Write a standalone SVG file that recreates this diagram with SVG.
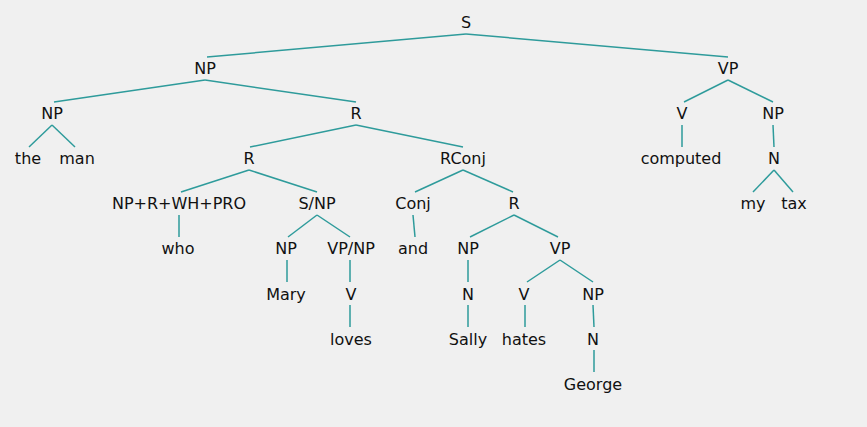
<svg xmlns="http://www.w3.org/2000/svg" width="867" height="427" viewBox="0 0 867 427">
<style>
text{font-family:"DejaVu Sans",Verdana,sans-serif;font-size:16px;fill:#111;text-anchor:middle}
.e line{stroke:#2e9b9b;stroke-width:1.5;fill:none}
</style>
<rect width="867" height="427" fill="#f0f0f0"/>
<g class="e" id="connectors">
<line x1="466" y1="34" x2="207" y2="57"/>
<line x1="466" y1="34" x2="728" y2="57"/>
<line x1="205" y1="80" x2="54" y2="102"/>
<line x1="205" y1="80" x2="356" y2="102"/>
<line x1="52" y1="125" x2="29" y2="147"/>
<line x1="52" y1="125" x2="75" y2="147"/>
<line x1="356" y1="125" x2="250" y2="147"/>
<line x1="356" y1="125" x2="463" y2="147"/>
<line x1="249" y1="170" x2="181" y2="192"/>
<line x1="249" y1="170" x2="317" y2="192"/>
<line x1="463" y1="170" x2="415" y2="192"/>
<line x1="463" y1="170" x2="513" y2="192"/>
<line x1="179" y1="215" x2="179" y2="237"/>
<line x1="317" y1="215" x2="288" y2="237"/>
<line x1="317" y1="215" x2="350" y2="237"/>
<line x1="413" y1="215" x2="415" y2="237"/>
<line x1="514" y1="215" x2="470" y2="237"/>
<line x1="514" y1="215" x2="558" y2="237"/>
<line x1="287" y1="260" x2="287" y2="282"/>
<line x1="350" y1="260" x2="350" y2="282"/>
<line x1="350" y1="305" x2="350" y2="327"/>
<line x1="468" y1="260" x2="468" y2="282"/>
<line x1="468" y1="305" x2="468" y2="327"/>
<line x1="560" y1="260" x2="527" y2="282"/>
<line x1="560" y1="260" x2="593" y2="282"/>
<line x1="525" y1="305" x2="525" y2="327"/>
<line x1="593" y1="305" x2="594" y2="327"/>
<line x1="594" y1="350" x2="594" y2="372"/>
<line x1="728" y1="80" x2="684" y2="102"/>
<line x1="728" y1="80" x2="773" y2="102"/>
<line x1="682" y1="125" x2="682" y2="147"/>
<line x1="773" y1="125" x2="774" y2="147"/>
<line x1="774" y1="170" x2="753" y2="192"/>
<line x1="774" y1="170" x2="793" y2="192"/>
</g>
<g id="n-S"><text x="466" y="28">S</text></g>
<g id="n-NP1"><text x="205" y="74">NP</text></g>
<g id="n-VP1"><text x="728" y="74">VP</text></g>
<g id="n-NP2"><text x="52" y="119">NP</text></g>
<g id="n-R2"><text x="356" y="119">R</text></g>
<g id="n-V2"><text x="682" y="119">V</text></g>
<g id="n-NP2b"><text x="773" y="119">NP</text></g>
<g id="n-the"><text x="28" y="164">the</text></g>
<g id="n-man"><text x="77" y="164">man</text></g>
<g id="n-R3"><text x="249" y="164">R</text></g>
<g id="n-RConj"><text x="463" y="164">RConj</text></g>
<g id="n-computed"><text x="681" y="164">computed</text></g>
<g id="n-N3"><text x="774" y="164">N</text></g>
<g id="n-NPRWHPRO"><text x="179" y="209">NP+R+WH+PRO</text></g>
<g id="n-SNP"><text x="317" y="209">S/NP</text></g>
<g id="n-Conj"><text x="413" y="209">Conj</text></g>
<g id="n-R4"><text x="514" y="209">R</text></g>
<g id="n-my"><text x="753" y="209">my</text></g>
<g id="n-tax"><text x="794" y="209">tax</text></g>
<g id="n-who"><text x="178" y="254">who</text></g>
<g id="n-NP5a"><text x="286" y="254">NP</text></g>
<g id="n-VPNP"><text x="351" y="254">VP/NP</text></g>
<g id="n-and"><text x="413" y="254">and</text></g>
<g id="n-NP5b"><text x="468" y="254">NP</text></g>
<g id="n-VP5"><text x="560" y="254">VP</text></g>
<g id="n-Mary"><text x="286" y="300">Mary</text></g>
<g id="n-V6a"><text x="351" y="300">V</text></g>
<g id="n-N6"><text x="468" y="300">N</text></g>
<g id="n-V6b"><text x="524" y="300">V</text></g>
<g id="n-NP6"><text x="593" y="300">NP</text></g>
<g id="n-loves"><text x="351" y="345">loves</text></g>
<g id="n-Sally"><text x="468" y="345">Sally</text></g>
<g id="n-hates"><text x="524" y="345">hates</text></g>
<g id="n-N7"><text x="593" y="345">N</text></g>
<g id="n-George"><text x="593" y="390">George</text></g>
</svg>
